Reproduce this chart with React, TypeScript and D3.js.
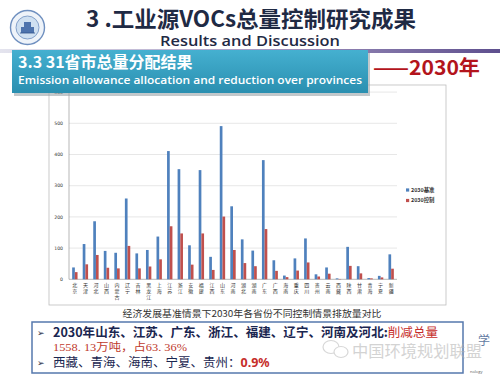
import React from "react";
import * as d3 from "d3";

// 31 provinces, 2030 emissions (10^4 t)
const provinces = [
  "北京", "天津", "河北", "山西", "内蒙古", "辽宁", "吉林", "黑龙江", "上海", "江苏",
  "浙江", "安徽", "福建", "江西", "山东", "河南", "湖北", "湖南", "广东", "广西",
  "海南", "重庆", "四川", "贵州", "云南", "西藏", "陕西", "甘肃", "青海", "宁夏", "新疆",
];
const baseline2030 = [
  38, 113, 186, 91, 85, 259, 83, 94, 137, 411,
  353, 109, 350, 72, 491, 234, 128, 92, 382, 61,
  12, 67, 131, 16, 38, 3, 104, 42, 4, 11, 80,
];
const control2030 = [
  23, 48, 78, 37, 35, 107, 35, 41, 64, 170,
  147, 47, 147, 30, 201, 94, 52, 42, 161, 27,
  7, 28, 54, 9, 18, 1, 43, 19, 3, 6, 34,
];
const seriesNames = ["2030基准", "2030控制"];
const seriesColors = ["#4f81bd", "#c0504d"];
const yTicks = [0, 100, 200, 300, 400, 500, 600];

const W = 500;
const H = 375;
const CJK = "'Noto Sans CJK SC', 'Noto Sans', sans-serif";

export default function App() {
  const x = d3.scaleBand<string>().domain(provinces).range([69, 397]).paddingInner(0.49).paddingOuter(0.3);
  const xs = d3.scaleBand<string>().domain(seriesNames).range([0, x.bandwidth()]);
  const y = d3.scaleLinear().domain([0, 600]).range([279.3, 92.1]);

  const rows = provinces.map((p, i) => ({ p, vals: [baseline2030[i], control2030[i]] }));

  return (
    <svg width={W} height={H} viewBox={`0 0 ${W} ${H}`} style={{ position: "absolute", left: 0, top: 0, background: "#fff" }}>
      <defs>
        <linearGradient id="topLine" x1="0" x2="1" y1="0" y2="0">
          <stop offset="0" stopColor="#e4e4ee" />
          <stop offset="0.5" stopColor="#a89cc4" />
          <stop offset="1" stopColor="#5e4f8e" />
        </linearGradient>
        <linearGradient id="teal" x1="0" x2="0" y1="0" y2="1">
          <stop offset="0" stopColor="#45b0d0" />
          <stop offset="1" stopColor="#2a8fb0" />
        </linearGradient>
      </defs>
      <rect width={W} height={H} fill="#fff" />

      {/* logo */}
      <g>
        <circle cx={27.5} cy={27.5} r={17} fill="#eef3f9" stroke="#6e8fbf" strokeWidth={1.4} />
        <circle cx={27.5} cy={27.5} r={11.5} fill="#cfe0f1" stroke="#6e8fbf" strokeWidth={0.8} />
        <rect x={21} y={27} width={13} height={6} fill="#4d73ad" />
        <rect x={24} y={22} width={7} height={5} fill="#4d73ad" />
        <path d="M20 33 L35 33" stroke="#2f528a" strokeWidth={0.8} />
      </g>

      {/* title */}
      <text x={251} y={27} textAnchor="middle" fontFamily={CJK} fontWeight={700} fontSize={22} fill="#1f2a44" textLength={330} lengthAdjust="spacingAndGlyphs">
        3 .工业源VOCs总量控制研究成果
      </text>
      <text x={250} y={46} textAnchor="middle" fontFamily="'Open Sans', sans-serif" fontWeight={600} fontSize={14} fill="#1f2a44" textLength={180} lengthAdjust="spacingAndGlyphs">
        Results and Discussion
      </text>
      <rect x={0} y={49} width={W} height={4} fill="url(#topLine)" />

      {/* chart frame */}
      <rect x={49} y={85} width={397} height={220} fill="#fff" stroke="#bdbdbd" strokeWidth={0.8} />
      <g>
        {yTicks.map(t => (
          <g key={t}>
            <line x1={69} x2={397} y1={y(t)} y2={y(t)} stroke={t === 0 ? "#9a9a9a" : "#dcdcdc"} strokeWidth={0.7} />
            <text x={63} y={y(t)} dy="0.35em" textAnchor="end" fontFamily="'DejaVu Sans', sans-serif" fontSize={4.6} fill="#333">{t}</text>
          </g>
        ))}
        <line x1={69} x2={69} y1={y(600)} y2={y(0)} stroke="#9a9a9a" strokeWidth={0.7} />
        {rows.map(r => (
          <g key={r.p} transform={`translate(${x(r.p)},0)`}>
            {r.vals.map((v, j) => (
              <rect key={j} x={xs(seriesNames[j])} y={y(v)} width={xs.bandwidth()} height={y(0) - y(v)} fill={seriesColors[j]} />
            ))}
          </g>
        ))}
        {provinces.map(p => (
          <text key={p} textAnchor="middle" fontFamily={CJK} fontSize={5} fill="#333">
            {Array.from(p).map((c, k) => (
              <tspan key={k} x={(x(p) ?? 0) + x.bandwidth() / 2} y={287 + k * 6.2}>{c}</tspan>
            ))}
          </text>
        ))}
        {seriesNames.map((s, j) => (
          <g key={s} transform={`translate(406,${190 + j * 10.5})`}>
            <rect x={0} y={-1.6} width={3.2} height={3.2} fill={seriesColors[j]} />
            <text x={5} y={0} dy="0.35em" fontFamily={CJK} fontWeight={700} fontSize={5.4} fill="#333">{s}</text>
          </g>
        ))}
      </g>

      {/* section header box */}
      <rect x={14} y={53} width={356} height={43} fill="#9aa3a8" opacity={0.6} />
      <rect x={12} y={50} width={356} height={43} fill="url(#teal)" />
      <text x={18} y={68} fontFamily={CJK} fontWeight={700} fontSize={16} fill="#fff">3.3 31省市总量分配结果</text>
      <text x={18} y={84} fontFamily="'Open Sans', sans-serif" fontWeight={600} fontSize={11} fill="#fff" textLength={344} lengthAdjust="spacingAndGlyphs">
        Emission allowance allocation and reduction over provinces
      </text>
      <text x={373} y={75} fontFamily={CJK} fontWeight={700} fontSize={20} fill="#b3141c" textLength={107} lengthAdjust="spacingAndGlyphs">——2030年</text>

      {/* caption */}
      <text x={252} y={317} textAnchor="middle" fontFamily={CJK} fontSize={9.5} fill="#333" textLength={259} lengthAdjust="spacingAndGlyphs">
        经济发展基准情景下2030年各省份不同控制情景排放量对比
      </text>

      {/* conclusions box */}
      <rect x={32} y={322} width={431} height={51} fill="#fff" stroke="#5578ad" strokeWidth={1.5} />
      <text x={37} y={336} fontFamily="'DejaVu Sans', sans-serif" fontSize={9} fill="#1f2a44">➢</text>
      <text x={53} y={337} fontFamily={CJK} fontWeight={700} fontSize={12.5} fill="#1a2650" textLength={385} lengthAdjust="spacingAndGlyphs">
        2030年山东、江苏、广东、浙江、福建、辽宁、河南及河北:<tspan fill="#c62d2a" fontWeight={400}>削减总量</tspan>
      </text>
      <text x={53} y={351} fontFamily={"'Liberation Serif', 'Noto Sans CJK SC', serif"} fontSize={11} fill="#c0392b" textLength={134} lengthAdjust="spacingAndGlyphs">
        1558. 13万吨，占63. 36%
      </text>
      <text x={37} y={366} fontFamily="'DejaVu Sans', sans-serif" fontSize={9} fill="#1f2a44">➢</text>
      <text x={53} y={367} fontFamily={CJK} fontSize={12.5} fill="#1a2650">
        西藏、青海、海南、宁夏、贵州：<tspan fill="#c62d2a" fontWeight={700} fontFamily="'Noto Sans', sans-serif">0.9%</tspan>
      </text>

      {/* watermark */}
      <g opacity={0.55}>
        <ellipse cx={331} cy={347} rx={8} ry={6.5} fill="none" stroke="#b8b8b8" strokeWidth={1.2} />
        <ellipse cx={341} cy={352} rx={7} ry={5.5} fill="#fff" stroke="#b8b8b8" strokeWidth={1.2} />
        <text x={352} y={357} fontFamily={CJK} fontSize={16} fill="#b0b0b0" textLength={130} lengthAdjust="spacingAndGlyphs">中国环境规划联盟</text>
      </g>
      <text x={478} y={345} fontFamily={CJK} fontSize={12} fill="#3a5a8c" opacity={0.8}>学</text>
      <text x={470} y={373} fontFamily="'Open Sans', sans-serif" fontSize={4} fill="#555">nology</text>
    </svg>
  );
}
